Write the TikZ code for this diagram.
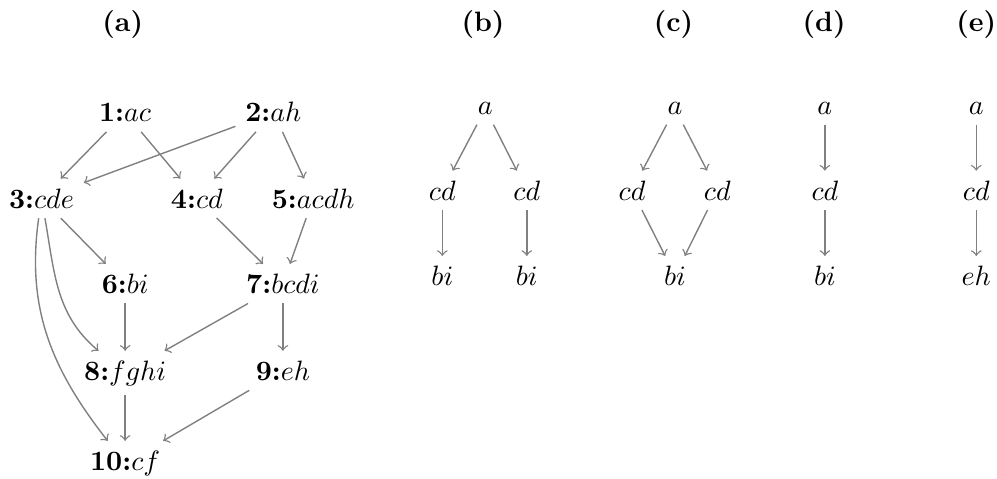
\documentclass[tikz,border=0pt]{standalone}
\tikzset{lbl/.style={anchor=base},
  edge/.style={->,gray,line width=0.5pt}}
\begin{document}
\begin{tikzpicture}
\useasboundingbox (0,0) rectangle (12.51,-6.01);
\foreach \x/\t in {1.54/a,6.06/b,8.45/c,10.34/d,12.25/e}\node[lbl] (t\t) at (\x,-0.39) {\textbf{(\t)}};
% (a)
\node[lbl] (n1) at (1.57,-1.53) {\textbf{1:}$ac$};
\node[lbl] (n2) at (3.43,-1.53) {\textbf{2:}$ah$};
\node[lbl] (n3) at (0.52,-2.61) {\textbf{3:}$cde$};
\node[lbl] (n4) at (2.47,-2.61) {\textbf{4:}$cd$};
\node[lbl] (n5) at (3.93,-2.61) {\textbf{5:}$acdh$};
\node[lbl] (n6) at (1.57,-3.68) {\textbf{6:}$bi$};
\node[lbl] (n7) at (3.55,-3.68) {\textbf{7:}$bcdi$};
\node[lbl] (n8) at (1.57,-4.77) {\textbf{8:}$fghi$};
\node[lbl] (n9) at (3.55,-4.77) {\textbf{9:}$eh$};
\node[lbl] (n10) at (1.57,-5.90) {\textbf{10:}$cf$};
\foreach \s/\e in {1/3,1/4,2/3,2/4,2/5,3/6,4/7,5/7,6/8,7/8,7/9,8/10,9/10}\draw[edge] (n\s) -- (n\e);
\draw[edge] (n3) to[out=-80,in=140] (n8);
\draw[edge] (n3) to[out=-98,in=128] (n10);
% (b)
\node[lbl] (ba) at (6.09,-1.44) {$a$};
\node[lbl] (bc1) at (5.55,-2.51) {$cd$};
\node[lbl] (bc2) at (6.61,-2.51) {$cd$};
\node[lbl] (bb1) at (5.55,-3.58) {$bi$};
\node[lbl] (bb2) at (6.61,-3.58) {$bi$};
\draw[edge] (ba) -- (bc1);
\draw[edge] (ba) -- (bc2);
\draw[edge] (bc1) -- (bb1);
\draw[edge] (bc2) -- (bb2);
% (c)
\node[lbl] (ca) at (8.47,-1.44) {$a$};
\node[lbl] (cc1) at (7.93,-2.51) {$cd$};
\node[lbl] (cc2) at (9.00,-2.51) {$cd$};
\node[lbl] (cb) at (8.47,-3.58) {$bi$};
\draw[edge] (ca) -- (cc1);
\draw[edge] (ca) -- (cc2);
\draw[edge] (cc1) -- (cb);
\draw[edge] (cc2) -- (cb);
% (d) and (e)
\node[lbl] (da) at (10.35,-1.44) {$a$};
\node[lbl] (dc) at (10.35,-2.51) {$cd$};
\node[lbl] (db) at (10.35,-3.58) {$bi$};
\node[lbl] (ea) at (12.25,-1.44) {$a$};
\node[lbl] (ec) at (12.25,-2.51) {$cd$};
\node[lbl] (ee) at (12.25,-3.58) {$eh$};
\foreach \s/\e in {da/dc,dc/db,ea/ec,ec/ee}\draw[edge] (\s) -- (\e);
\end{tikzpicture}
\end{document}
